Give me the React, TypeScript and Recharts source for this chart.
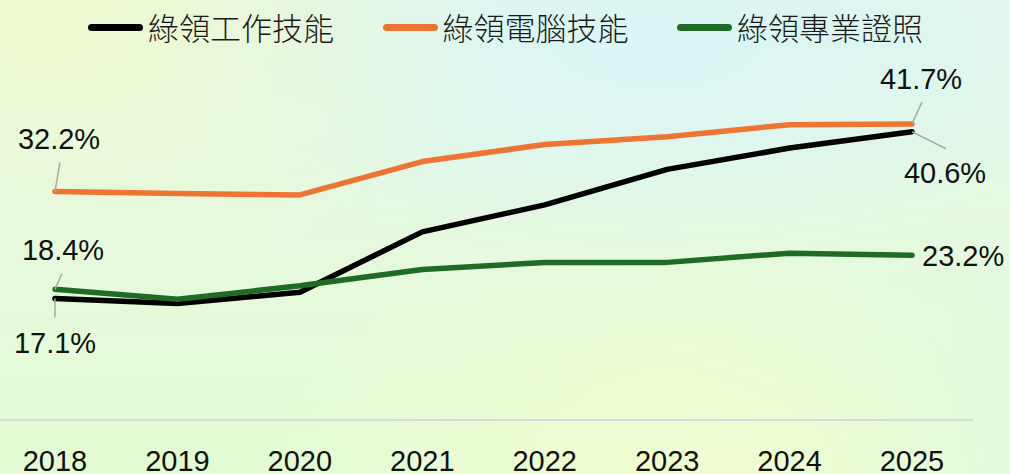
import React from 'react';
import { LineChart, Line, XAxis, YAxis, LabelList } from 'recharts';

// Green-collar skill shares, 2018–2025 (%).
const YEARS = ['2018', '2019', '2020', '2021', '2022', '2023', '2024', '2025'];
const WORK_SKILLS = [17.1, 16.4, 18.0, 26.5, 30.3, 35.3, 38.3, 40.6];
const COMPUTER_SKILLS = [32.2, 31.9, 31.7, 36.4, 38.8, 39.9, 41.6, 41.7];
const CERTIFICATES = [18.4, 17.0, 18.9, 21.2, 22.2, 22.2, 23.5, 23.2];

const SERIES = [
    { key: 'work', name: '綠領工作技能', color: '#000000' },
    { key: 'computer', name: '綠領電腦技能', color: '#ED7533' },
    { key: 'cert', name: '綠領專業證照', color: '#1E6B25' },
];

const data = YEARS.map((year, i) => ({
    year,
    work: WORK_SKILLS[i],
    computer: COMPUTER_SKILLS[i],
    cert: CERTIFICATES[i],
}));

const LEADER = '#a9a9a9';
const INK = '#111111';
const LABEL_FONT = '"Liberation Sans", Arial, sans-serif';

// where each end label sits relative to its point: leader end (lx, ly), text anchor (tx, ty)
type Placement = { lx?: number; ly?: number; tx: number; ty: number; anchor: 'start' | 'middle' };
const PLACEMENTS: Record<string, { first: Placement; last: Placement }> = {
    work: {
        first: { lx: 0, ly: 19, tx: 0, ty: 54, anchor: 'middle' },
        last: { lx: 34, ly: 17, tx: 33, ty: 51, anchor: 'middle' },
    },
    computer: {
        first: { lx: 5, ly: -29, tx: 4, ty: -42, anchor: 'middle' },
        last: { lx: 10, ly: -22, tx: 9, ty: -35, anchor: 'middle' },
    },
    cert: {
        first: { lx: 7, ly: -16, tx: 8, ty: -29, anchor: 'middle' },
        last: { tx: 10, ty: 11, anchor: 'start' },
    },
};

const endLabel = (seriesKey: string) => (props: any) => {
    const { x, y, index, value } = props;
    if (index !== 0 && index !== YEARS.length - 1) return null;
    const p = index === 0 ? PLACEMENTS[seriesKey].first : PLACEMENTS[seriesKey].last;
    return (
        <g>
            {p.lx !== undefined && (
                <line x1={x} y1={y} x2={x + p.lx} y2={y + (p.ly ?? 0)} stroke={LEADER} strokeWidth={1.5} />
            )}
            <text x={x + p.tx} y={y + p.ty} textAnchor={p.anchor} fill={INK}
                style={{ fontFamily: LABEL_FONT, fontSize: 29 }}>
                {`${Number(value).toFixed(1)}%`}
            </text>
        </g>
    );
};

const YearTick = (props: any) => {
    const { x, y, payload } = props;
    return (
        <text x={x} y={y + 43} textAnchor="middle" fill={INK} style={{ fontFamily: LABEL_FONT, fontSize: 29 }}>
            {payload.value}
        </text>
    );
};

// legend drawn as an HTML overlay so it doesn't push the plot area down
const TopLegend = () => (
    <div style={{ position: 'absolute', left: 0, top: 0, width: 1010, height: 56, pointerEvents: 'none' }}>
        {SERIES.map((s, i) => (
            <div key={s.key} style={{
                position: 'absolute', left: 88 + i * 294.5, top: 8, display: 'flex', alignItems: 'center',
            }}>
                <div style={{ width: 55, height: 7, borderRadius: 4, background: s.color, marginRight: 5 }} />
                <span style={{
                    fontFamily: '"Noto Sans CJK TC", "Noto Sans CJK SC", sans-serif', fontSize: 31,
                    fontWeight: 300, color: '#1a1a1a', lineHeight: '38px',
                }}>{s.name}</span>
            </div>
        ))}
    </div>
);

export default function App() {
    return (
        <div style={{
            position: 'absolute', left: 0, top: 0, width: 1010, height: 474, overflow: 'hidden',
            background: [
                'radial-gradient(ellipse 45% 55% at 5% 5%, #eef9cf 0%, rgba(238,249,207,0) 100%)',
                'radial-gradient(ellipse 50% 45% at 65% 10%, #daf5f6 0%, rgba(218,245,246,0) 100%)',
                'radial-gradient(ellipse 45% 50% at 70% 100%, #f0fcd1 0%, rgba(240,252,209,0) 100%)',
                'radial-gradient(ellipse 35% 50% at 100% 95%, #d9f9e2 0%, rgba(217,249,226,0) 100%)',
                'linear-gradient(to bottom, #e2f6ea 0%, #e6f9dc 60%, #e2fbd3 100%)',
            ].join(', '),
        }}>
            <LineChart width={1010} height={474} data={data} margin={{ top: 65, right: 37, left: 0, bottom: 0 }}>
                <XAxis dataKey="year" height={54} padding={{ left: 55, right: 61 }}
                    axisLine={{ stroke: '#d9d9d9', strokeWidth: 2 }} tickLine={false} tick={<YearTick />}
                    interval={0} />
                <YAxis hide domain={[0, 50]} />
                {SERIES.map(s => (
                    <Line key={s.key} type="linear" dataKey={s.key} name={s.name} stroke={s.color}
                        strokeWidth={5.5} strokeLinejoin="round" strokeLinecap="round" dot={false}
                        activeDot={false} isAnimationActive={false}>
                        <LabelList dataKey={s.key} content={endLabel(s.key)} />
                    </Line>
                ))}
            </LineChart>
            <TopLegend />
        </div>
    );
}
